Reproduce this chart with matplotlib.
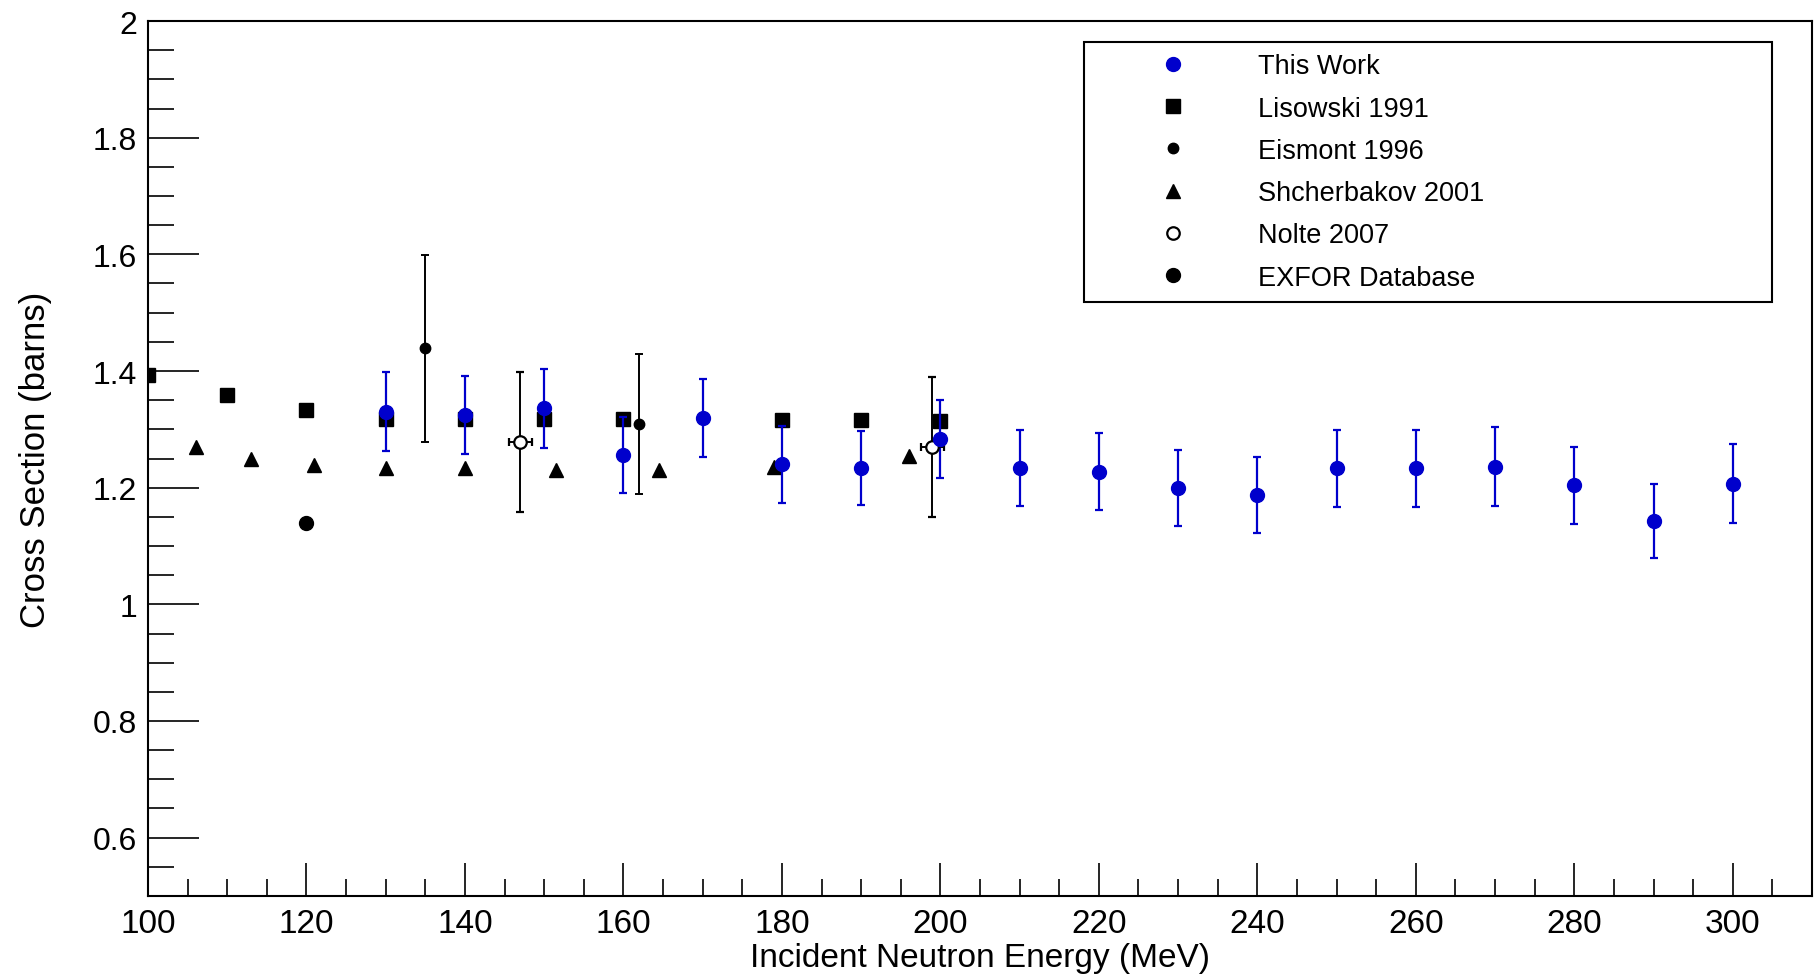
import matplotlib
matplotlib.use('Agg')
import matplotlib.pyplot as plt
from matplotlib.lines import Line2D
from matplotlib.ticker import FixedLocator, MultipleLocator, FormatStrFormatter

plt.rcParams['font.family'] = ['Liberation Sans', 'DejaVu Sans']

# This Work
work_e = [130, 140, 150, 160, 170, 180, 190, 200, 210, 220, 230, 240, 250, 260, 270, 280, 290, 300]
work_xs = [1.330, 1.325, 1.336, 1.256, 1.320, 1.240, 1.234, 1.284, 1.233, 1.227, 1.200, 1.187,
           1.233, 1.233, 1.236, 1.204, 1.143, 1.207]
work_err = [0.068, 0.067, 0.068, 0.065, 0.067, 0.066, 0.063, 0.067, 0.065, 0.066, 0.065, 0.065,
            0.066, 0.066, 0.068, 0.066, 0.064, 0.068]

# Lisowski 1991
lis_e = [100, 110, 120, 130, 140, 150, 160, 180, 190, 200]
lis_xs = [1.393, 1.358, 1.333, 1.318, 1.317, 1.317, 1.317, 1.316, 1.316, 1.314]

# Eismont 1996
eis_e = [135, 162]
eis_xs = [1.439, 1.309]
eis_err = [0.16, 0.12]

# Shcherbakov 2001
shc_e = [106, 113, 121, 130, 140, 151.5, 164.5, 179, 196]
shc_xs = [1.270, 1.249, 1.239, 1.233, 1.233, 1.230, 1.230, 1.236, 1.254]

# Nolte 2007
nol_e = [147, 199]
nol_xs = [1.279, 1.270]
nol_err = [0.12, 0.12]
nol_eerr = [1.5, 1.5]

# EXFOR Database
exf_e = [120]
exf_xs = [1.139]

blue = '#0000cc'

fig = plt.figure(figsize=(18.14, 9.79), dpi=100)
ax = fig.add_axes([148 / 1814, 1 - 897 / 979, 1664 / 1814, 875 / 979])

# blue points with errors
ax.errorbar(work_e, work_xs, yerr=work_err, fmt='none', ecolor=blue, elinewidth=1.6,
            capsize=2.6, capthick=1.6, zorder=3)
ax.plot(lis_e, lis_xs, 's', color='black', ms=9.5, zorder=2)
ax.plot(shc_e, shc_xs, '^', color='black', ms=10, zorder=2)
ax.plot(exf_e, exf_xs, 'o', color='black', ms=10, zorder=2)
ax.errorbar(eis_e, eis_xs, yerr=eis_err, fmt='o', color='black', ms=7.5, elinewidth=1.4,
            capsize=2.6, capthick=1.4, zorder=3)
ax.errorbar(nol_e, nol_xs, yerr=nol_err, xerr=nol_eerr, fmt='o', color='black', mfc='white',
            mec='black', mew=1.6, ms=9, elinewidth=1.4, capsize=2.6, capthick=1.4, zorder=3)
ax.plot(work_e, work_xs, 'o', color=blue, ms=10, zorder=4)

ax.set_xlim(100, 310)
ax.set_ylim(0.5, 2.0)

ax.xaxis.set_major_locator(MultipleLocator(20))
ax.xaxis.set_minor_locator(MultipleLocator(5))
ax.yaxis.set_major_locator(FixedLocator([0.6, 0.8, 1.0, 1.2, 1.4, 1.6, 1.8, 2.0]))
ax.yaxis.set_minor_locator(MultipleLocator(0.05))
ax.yaxis.set_major_formatter(FormatStrFormatter('%g'))

ax.tick_params(axis='x', which='major', direction='in', length=24, width=1.2, labelsize=24, pad=9)
ax.tick_params(axis='x', which='minor', direction='in', length=12, width=1.2)
ax.tick_params(axis='y', which='major', direction='in', length=37, width=1.2, labelsize=23, pad=8)
ax.tick_params(axis='y', which='minor', direction='in', length=19, width=1.2)
for s in ax.spines.values():
    s.set_linewidth(1.5)

ax.set_xlabel('Incident Neutron Energy (MeV)', fontsize=24, labelpad=2)
ax.set_ylabel('Cross Section (barns)', fontsize=25, labelpad=29)

# legend (markers only)
handles = [
    Line2D([], [], ls='none', marker='o', color=blue, ms=10),
    Line2D([], [], ls='none', marker='s', color='black', ms=9.5),
    Line2D([], [], ls='none', marker='o', color='black', ms=7.5),
    Line2D([], [], ls='none', marker='^', color='black', ms=10),
    Line2D([], [], ls='none', marker='o', mfc='white', mec='black', mew=1.6, ms=9),
    Line2D([], [], ls='none', marker='o', color='black', ms=10),
]
labels = ['This Work', 'Lisowski 1991', 'Eismont 1996', 'Shcherbakov 2001', 'Nolte 2007', 'EXFOR Database']
leg = ax.legend(handles, labels, loc='upper left',
                bbox_to_anchor=((1084 - 148) / 1664, (897 - 43) / 875, (1772 - 1084) / 1664, 0),
                mode='expand', borderaxespad=0, fontsize=19.5, frameon=True, fancybox=False,
                edgecolor='black', framealpha=1, handlelength=5.7, handletextpad=0.3,
                borderpad=0.42, labelspacing=0.6)
leg.get_frame().set_linewidth(1.5)

fig.savefig('out.png', dpi=100)
